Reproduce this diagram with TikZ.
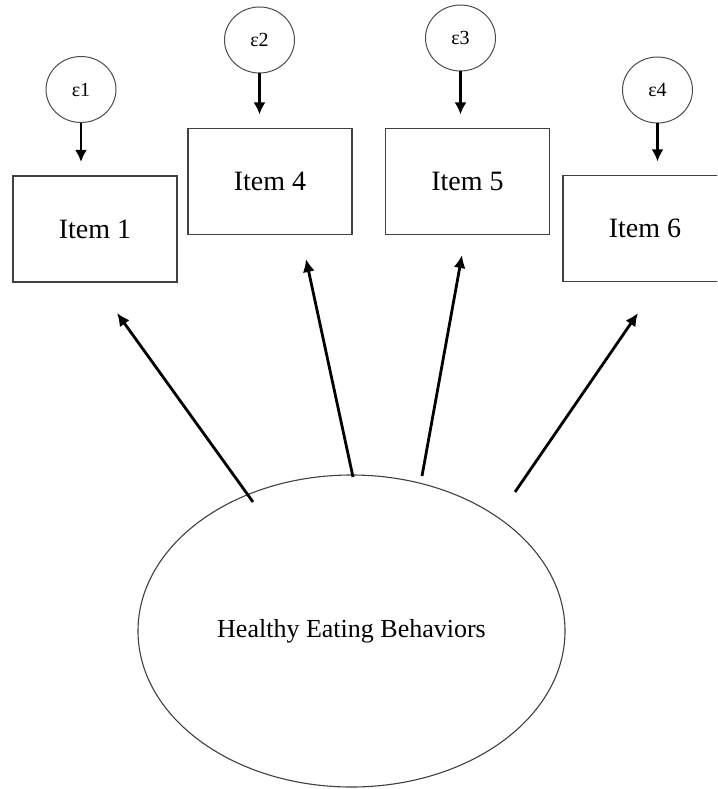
\documentclass[tikz,border=0pt]{standalone}
\usepackage{fontspec}
\setmainfont{Liberation Serif}
\usetikzlibrary{arrows.meta,shapes.geometric}
\begin{document}
\begin{tikzpicture}[x=1pt,y=-1pt,
  itembox/.style={draw=black!75,line width=1.1pt,inner sep=0pt,minimum width=164pt,minimum height=106pt,font=\fontsize{28}{33}\selectfont},
  errnode/.style={draw=black!70,line width=1pt,ellipse,inner sep=0pt,minimum width=70pt,minimum height=66pt,font=\fontsize{20}{24}\selectfont},
  latent/.style={draw=black!75,line width=1.1pt,ellipse,inner sep=0pt,minimum width=427pt,minimum height=312pt,font=\fontsize{26}{31}\selectfont},
  errarrow/.style={-{Latex[length=12pt,width=12pt]},line width=2.8pt,shorten >=13.5pt},
  loadarrow/.style={-{Latex[length=13pt,width=12pt]},line width=2.8pt}
]
\useasboundingbox (0,0) rectangle (717,789);
\clip (0,0) rectangle (717,789);
\fill[white] (0,0) rectangle (717,789);

\node[itembox] (i1) at (95,229) {Item 1};
\node[itembox] (i4) at (270,181.5) {Item 4};
\node[itembox] (i5) at (467.5,181.5) {Item 5};
\node[itembox] (i6) at (645,228.5) {Item 6};

\node[errnode] (e1) at (81,89.5) {ε1};
\node[errnode] (e2) at (259.5,40) {ε2};
\node[errnode] (e3) at (460.5,38) {ε3};
\node[errnode] (e4) at (657.5,90) {ε4};

\draw[errarrow] (e1.south) -- (e1.south |- i1.north);
\draw[errarrow] (e2.south) -- (e2.south |- i4.north);
\draw[errarrow] (e3.south) -- (e3.south |- i5.north);
\draw[errarrow] (e4.south) -- (e4.south |- i6.north);

\node[latent] (heb) at (351.5,631) {Healthy Eating Behaviors};

\coordinate (s1) at (253,502);
\coordinate (s2) at (353,477);
\coordinate (s3) at (422,476);
\coordinate (s4) at (515,492);
\coordinate (t1) at (117,313);
\coordinate (t2) at (306,259);
\coordinate (t3) at (462,255);
\coordinate (t4) at (638,313);

\draw[loadarrow] (s1) -- (t1);
\draw[loadarrow] (s2) -- (t2);
\draw[loadarrow] (s3) -- (t3);
\draw[loadarrow] (s4) -- (t4);
\end{tikzpicture}
\end{document}
